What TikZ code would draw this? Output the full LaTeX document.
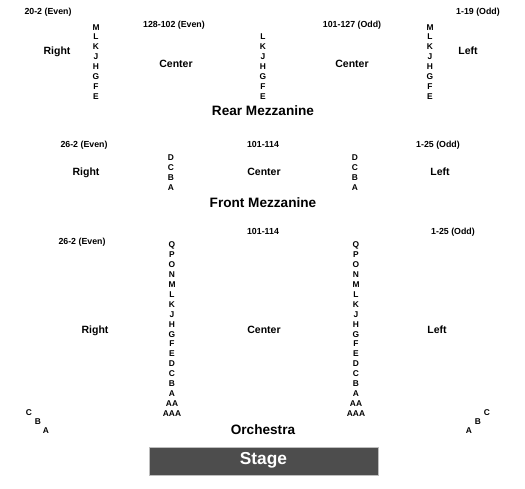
\documentclass[tikz,border=0pt]{standalone}
\usepackage{fontspec}
\setmainfont{Liberation Sans}
\definecolor{stagegray}{RGB}{77,77,77}
\definecolor{stageedge}{RGB}{190,190,190}
\begin{document}
\begin{tikzpicture}[x=1pt,y=-1pt,
  base/.style={inner sep=0pt, text depth=0pt, text height=0.716em, anchor=center},
  rng/.style={base, font=\bfseries\fontsize{8.8}{10}\selectfont},
  sect/.style={base, font=\bfseries\fontsize{10.5}{12}\selectfont},
  rowl/.style={base, font=\bfseries\fontsize{8.4}{10}\selectfont},
  ttl/.style={base, font=\bfseries\fontsize{13.6}{15}\selectfont},
  stagebox/.style={draw=stageedge, line width=0.8pt, fill=stagegray, minimum width=229pt, minimum height=28pt, inner sep=0pt},
  stagetxt/.style={base, text=white, font=\bfseries\fontsize{17.3}{19}\selectfont}]
\useasboundingbox (0,0) rectangle (525,488);
% ---- Rear Mezzanine ----
\node[rng] (rmEven) at (48,11) {20-2 (Even)};
\node[rng] (rmOdd) at (478,11) {1-19 (Odd)};
\node[rng] (rmCE) at (174,24) {128-102 (Even)};
\node[rng] (rmCO) at (352,24) {101-127 (Odd)};
\foreach \l [count=\i from 0] in {M,L,K,J,H,G,F,E} {
  \node[rowl] (rmR\i) at (96,26.5+9.9*\i) {\l};
  \node[rowl] (rmL\i) at (430,26.5+9.9*\i) {\l};
}
\foreach \l [count=\i from 0] in {L,K,J,H,G,F,E} {
  \node[rowl] (rmC\i) at (263,36.4+9.9*\i) {\l};
}
\node[sect] (rmRight) at (57,51) {Right};
\node[sect] (rmLeft) at (468,51) {Left};
\node[sect] (rmCenter1) at (176,64) {Center};
\node[sect] (rmCenter2) at (352,64) {Center};
\node[ttl] (rmTitle) at (263,112) {Rear Mezzanine};
% ---- Front Mezzanine ----
\node[rng] (fmEven) at (84,144) {26-2 (Even)};
\node[rng] (fmMid) at (263,144) {101-114};
\node[rng] (fmOdd) at (438,144) {1-25 (Odd)};
\foreach \l [count=\i from 0] in {D,C,B,A} {
  \node[rowl] (fmA\i) at (171,157+10*\i) {\l};
  \node[rowl] (fmB\i) at (355,157+10*\i) {\l};
}
\node[sect] (fmRight) at (86,172) {Right};
\node[sect] (fmCenter) at (264,172) {Center};
\node[sect] (fmLeft) at (440,172) {Left};
\node[ttl] (fmTitle) at (263,203.5) {Front Mezzanine};
% ---- Orchestra ----
\node[rng] (orMid) at (263,231) {101-114};
\node[rng] (orOdd) at (453,231) {1-25 (Odd)};
\node[rng] (orEven) at (82,241) {26-2 (Even)};
\foreach \l [count=\i from 0] in {Q,P,O,N,M,L,K,J,H,G,F,E,D,C,B,A,AA,AAA} {
  \node[rowl] (orA\i) at (172,244+9.94*\i) {\l};
  \node[rowl] (orB\i) at (356,244+9.94*\i) {\l};
}
\node[sect] (orRight) at (95,330) {Right};
\node[sect] (orCenter) at (264,330) {Center};
\node[sect] (orLeft) at (437,330) {Left};
\node[rowl] (bxLC) at (29,412) {C};
\node[rowl] (bxLB) at (38,421) {B};
\node[rowl] (bxLA) at (46,430) {A};
\node[rowl] (bxRA) at (469,430) {A};
\node[rowl] (bxRB) at (478,421) {B};
\node[rowl] (bxRC) at (487,412) {C};
\node[ttl] (orTitle) at (263,431) {Orchestra};
\node[stagebox] (stage) at (263.5,461) {};
\node[stagetxt] (stageLabel) at (263.5,460.5) {Stage};
\end{tikzpicture}
\end{document}
